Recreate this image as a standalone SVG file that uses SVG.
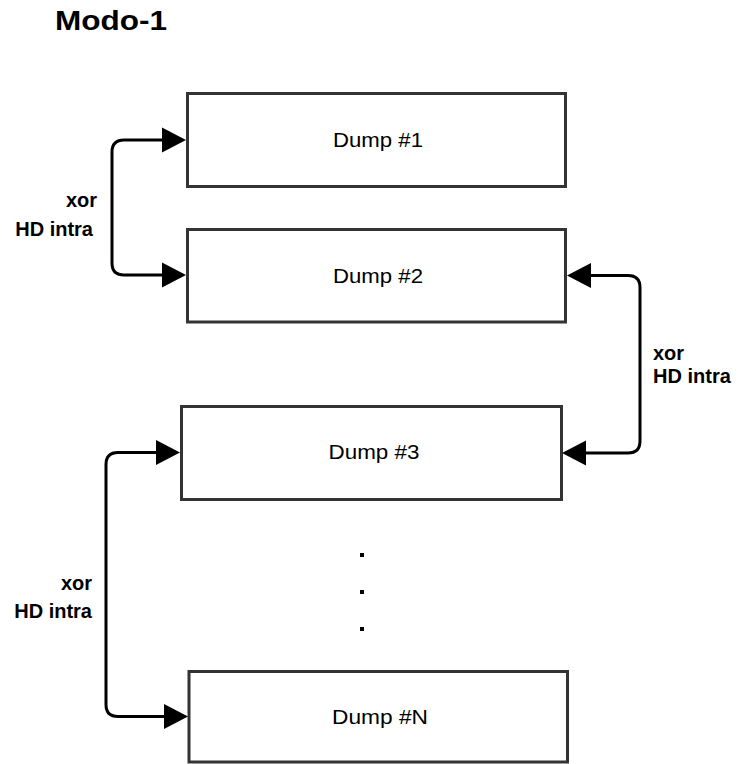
<svg xmlns="http://www.w3.org/2000/svg" width="739" height="764" viewBox="0 0 739 764">
<style>
.box{fill:#fff;stroke:#333;stroke-width:3}
.lbl{font-family:"Liberation Sans",Arial,sans-serif;font-size:21px;fill:#000;text-anchor:middle}
.edge{font-family:"Liberation Sans",Arial,sans-serif;font-size:20px;font-weight:bold;fill:#000}
.conn{fill:none;stroke:#000;stroke-width:3}
.head{fill:#000}
</style>
<rect width="739" height="764" fill="#fff"/>
<text x="55" y="30" font-family="Liberation Sans,Arial,sans-serif" font-size="27" font-weight="bold" textLength="112" lengthAdjust="spacingAndGlyphs">Modo-1</text>
<g id="dump1"><rect class="box" x="187.5" y="93.5" width="378" height="93"/><text class="lbl" x="378" y="147" textLength="90" lengthAdjust="spacingAndGlyphs">Dump #1</text></g>
<g id="dump2"><rect class="box" x="187.5" y="229.5" width="378" height="92.5"/><text class="lbl" x="378" y="283" textLength="90" lengthAdjust="spacingAndGlyphs">Dump #2</text></g>
<g id="dump3"><rect class="box" x="181.5" y="406.5" width="380" height="93"/><text class="lbl" x="374" y="459" textLength="91" lengthAdjust="spacingAndGlyphs">Dump #3</text></g>
<g id="dumpN"><rect class="box" x="189" y="671.5" width="378.5" height="90.5"/><text class="lbl" x="380" y="723.5" textLength="96" lengthAdjust="spacingAndGlyphs">Dump #N</text></g>
<g id="dots"><rect x="360" y="553" width="4" height="4"/><rect x="360" y="590" width="4" height="4"/><rect x="360" y="627" width="4" height="4"/></g>
<g id="connectors">
<path class="conn" d="M163 140 H124 Q112 140 112 152 V263 Q112 275 124 275 H163"/>
<polygon class="head" points="186,140 162,127.5 162,152.5"/>
<polygon class="head" points="186,275 162,262.5 162,287.5"/>
<path class="conn" d="M591 275.5 H628 Q640 275.5 640 287.5 V441 Q640 453 628 453 H585"/>
<polygon class="head" points="567,275.5 591,263 591,288"/>
<polygon class="head" points="562,453 586,440.5 586,465.5"/>
<path class="conn" d="M157 452.5 H118 Q106 452.5 106 464.5 V704.5 Q106 716.5 118 716.5 H164"/>
<polygon class="head" points="180,452.5 156,440 156,465"/>
<polygon class="head" points="188,716.5 164,704 164,729"/>
<text class="edge" text-anchor="end" x="97" y="207">xor</text>
<text class="edge" text-anchor="end" x="93" y="236">HD intra</text>
<text class="edge" x="653" y="360">xor</text>
<text class="edge" x="653" y="383">HD intra</text>
<text class="edge" text-anchor="end" x="92" y="590">xor</text>
<text class="edge" text-anchor="end" x="92" y="618">HD intra</text>
</g>
</svg>
